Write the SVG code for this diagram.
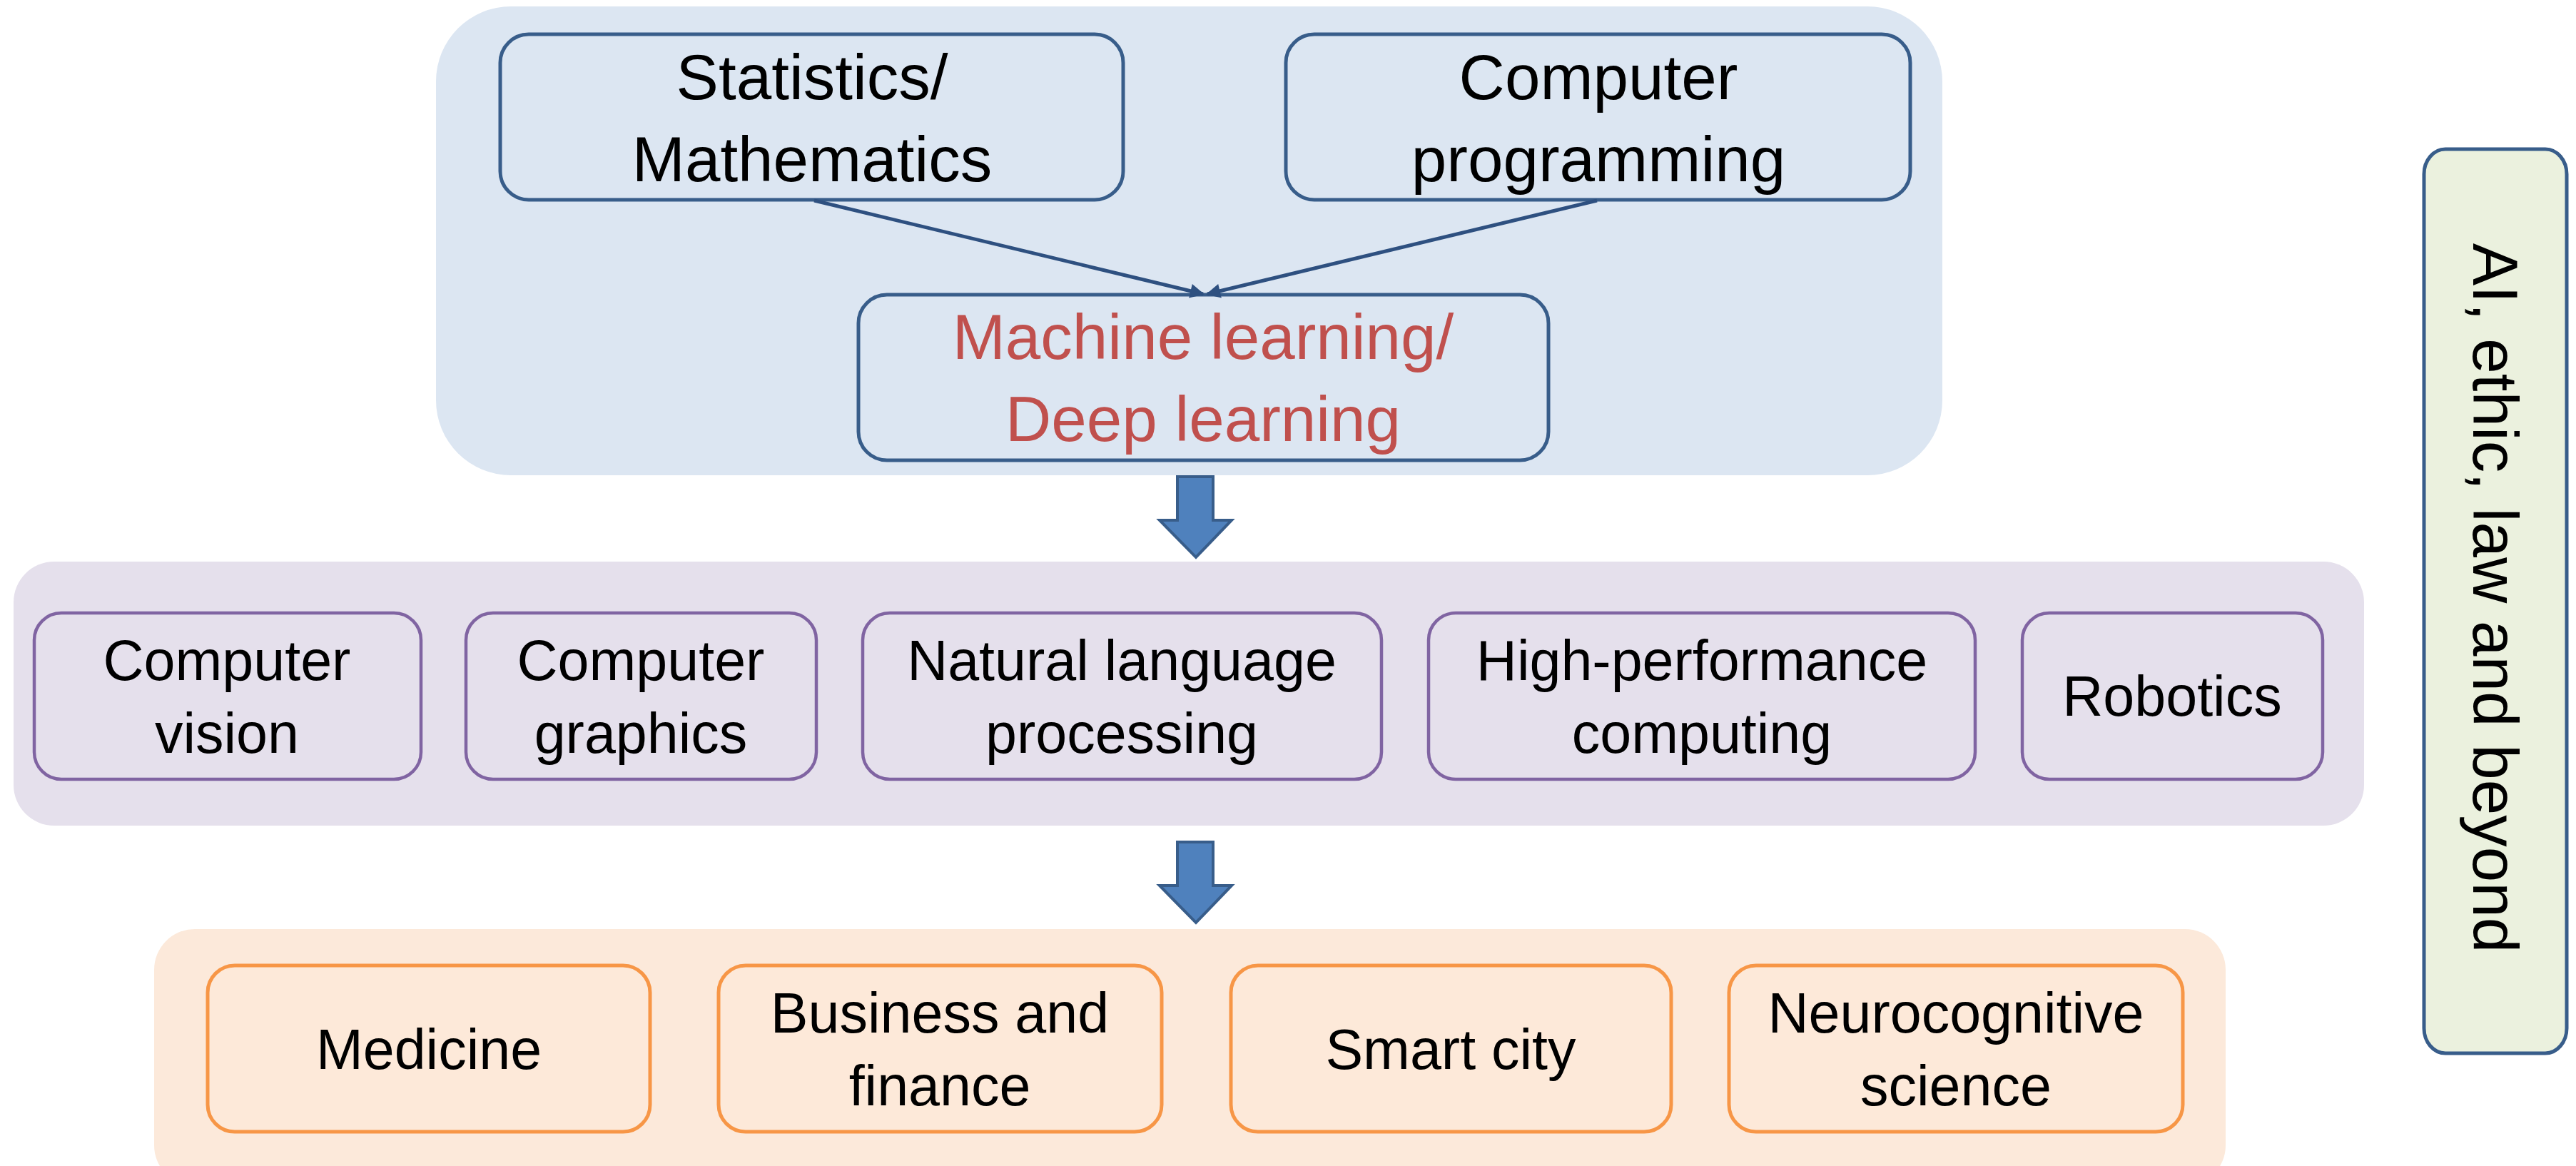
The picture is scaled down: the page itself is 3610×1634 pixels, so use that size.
<svg xmlns="http://www.w3.org/2000/svg" width="3610" height="1634" viewBox="0 0 3610 1634">
<style>
text{font-family:"Liberation Sans",Arial,sans-serif;fill:#000;text-anchor:middle}
.t1{font-size:89px}
.t2{font-size:79px}
.ml{fill:#C0504D}
.bb{fill:#DCE6F2;stroke:#385D8A;stroke-width:5}
.pb{fill:#E5E0EC;stroke:#8064A2;stroke-width:4.5}
.ob{fill:#FDE9D9;stroke:#F79646;stroke-width:5}
.conn{stroke:#2E5080;stroke-width:5;fill:none}
.block{fill:#4F81BD;stroke:#385D8A;stroke-width:4;stroke-linejoin:miter}
</style>
<defs>
<marker id="ah" viewBox="0 0 10 10" refX="9" refY="5" markerWidth="24" markerHeight="20" markerUnits="userSpaceOnUse" orient="auto">
<path d="M0,0 L10,5 L0,10 Z" fill="#2E5080"/>
</marker>
</defs>

<g id="containers">
<rect id="group-top" x="611" y="9" width="2111" height="657" rx="105" ry="105" fill="#DCE6F2"/>
<rect id="group-mid" x="19" y="787" width="3294" height="370" rx="57" ry="57" fill="#E5E0EC"/>
<rect id="group-bottom" x="216" y="1302" width="2903" height="360" rx="57" ry="57" fill="#FCE9DA"/>
</g>

<g id="node-stats">
<rect class="bb" x="701" y="48" width="873" height="232" rx="40"/>
<text class="t1" x="1138" y="139">Statistics/</text>
<text class="t1" x="1138" y="254">Mathematics</text>
</g>
<g id="node-programming">
<rect class="bb" x="1802" y="48" width="875" height="232" rx="40"/>
<text class="t1" x="2240" y="139">Computer</text>
<text class="t1" x="2240" y="254">programming</text>
</g>
<g id="node-ml">
<rect class="bb" x="1203" y="413" width="967" height="232" rx="40"/>
<text class="t1 ml" x="1686" y="503">Machine learning/</text>
<text class="t1 ml" x="1686" y="618">Deep learning</text>
</g>

<g id="node-cv">
<rect class="pb" x="48" y="859" width="542" height="233" rx="38"/>
<text class="t2" x="318" y="953">Computer</text>
<text class="t2" x="318" y="1055">vision</text>
</g>
<g id="node-cg">
<rect class="pb" x="653" y="859" width="491" height="233" rx="38"/>
<text class="t2" x="898" y="953">Computer</text>
<text class="t2" x="898" y="1055">graphics</text>
</g>
<g id="node-nlp">
<rect class="pb" x="1209" y="859" width="727" height="233" rx="38"/>
<text class="t2" x="1572" y="953">Natural language</text>
<text class="t2" x="1572" y="1055">processing</text>
</g>
<g id="node-hpc">
<rect class="pb" x="2002" y="859" width="766" height="233" rx="38"/>
<text class="t2" x="2385" y="953">High-performance</text>
<text class="t2" x="2385" y="1055">computing</text>
</g>
<g id="node-robotics">
<rect class="pb" x="2834" y="859" width="421" height="233" rx="38"/>
<text class="t2" x="3044" y="1003">Robotics</text>
</g>

<g id="node-medicine">
<rect class="ob" x="291" y="1353" width="620" height="233" rx="38"/>
<text class="t2" x="601" y="1498">Medicine</text>
</g>
<g id="node-business">
<rect class="ob" x="1007" y="1353" width="621" height="233" rx="38"/>
<text class="t2" x="1317" y="1447">Business and</text>
<text class="t2" x="1317" y="1549">finance</text>
</g>
<g id="node-smartcity">
<rect class="ob" x="1725" y="1353" width="617" height="233" rx="38"/>
<text class="t2" x="2033" y="1498">Smart city</text>
</g>
<g id="node-neuro">
<rect class="ob" x="2423" y="1353" width="636" height="233" rx="38"/>
<text class="t2" x="2741" y="1447">Neurocognitive</text>
<text class="t2" x="2741" y="1549">science</text>
</g>

<g id="node-ai">
<rect x="3397" y="209" width="200" height="1267" rx="30" ry="35" fill="#EBF1DE" stroke="#385D8A" stroke-width="5"/>
<text class="t1" transform="translate(3466,838) rotate(90)" x="0" y="0">AI, ethic, law and beyond</text>
</g>

<g id="connectors">
<line class="conn" x1="1141" y1="281" x2="1686" y2="412" marker-end="url(#ah)"/>
<line class="conn" x1="2238" y1="281" x2="1692" y2="412" marker-end="url(#ah)"/>
<path class="block" d="M1650,668 H1700 V729 H1726 L1676,781 L1625,729 H1650 Z"/>
<path class="block" d="M1650,1180 H1700 V1241 H1726 L1676,1293 L1625,1241 H1650 Z"/>
</g>
</svg>
